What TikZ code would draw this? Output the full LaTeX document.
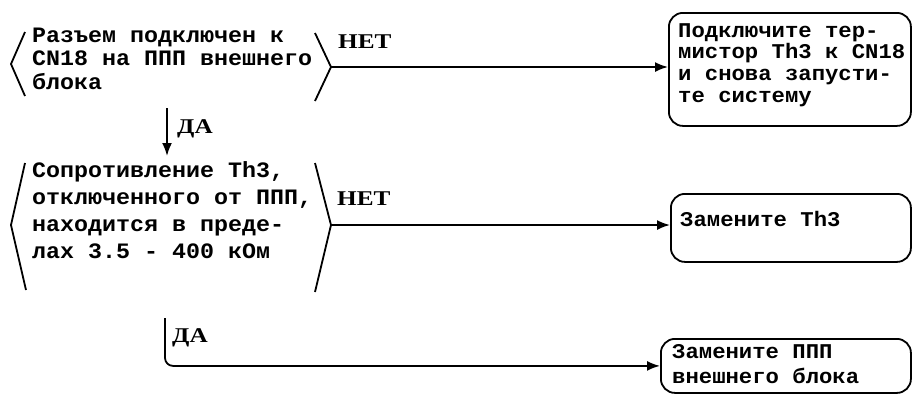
\documentclass[tikz,border=0pt]{standalone}
\usepackage{fontspec}
\usetikzlibrary{arrows.meta}
\newfontfamily\bodyfont[FakeStretch=1.06]{Liberation Mono Bold}
\newfontfamily\lblfont[FakeStretch=1.2]{Liberation Serif Bold}
\tikzset{
  ln/.style={line width=1.8pt, line join=round},
  arr/.style={ln, -{Latex[length=13pt,width=10pt]}},
  rbox/.style={ln, draw, rounded corners=14pt, anchor=north west, inner sep=0pt},
  txt/.style={anchor=base west, inner sep=0pt},
  lbl/.style={anchor=base west, inner sep=0pt, font=\lblfont\fontsize{21}{21}\selectfont},
}
\begin{document}
\begin{tikzpicture}[x=1pt,y=-1pt]
\useasboundingbox (0,0) rectangle (912,394);

% decision 1
\draw[ln] (25,32) -- (11,64) -- (25,96);
\draw[ln] (315,33) -- (331,67) -- (315,101);
\coordinate (a1) at (331,67);
\node[txt] (d1) at (32,42) {\bodyfont\fontsize{22}{23.5}\selectfont
  \begin{tabular}[t]{@{}l@{}}Разъем подключен к\\CN18 на ППП внешнего\\блока\end{tabular}};
\node[lbl] (n1) at (338,48) {НЕТ};

% result 1
\node[rbox, minimum width=242pt, minimum height=113pt] (r1) at (668,12) {};
\node[txt] (t1) at (678,37) {\bodyfont\fontsize{21}{21.7}\selectfont
  \begin{tabular}[t]{@{}l@{}}Подключите тер-\\мистор Th3 к CN18\\и снова запусти-\\те систему\end{tabular}};
\draw[arr] (a1) -- (a1 -| r1.west);

% yes 1
\coordinate (y1s) at (167,108);
\coordinate (y1e) at (167,156);
\draw[arr] (y1s) -- (y1e);
\node[lbl] (da1) at (177,133) {ДА};

% decision 2
\draw[ln] (25,163) -- (11,225) -- (26,290);
\draw[ln] (315,163) -- (331,225) -- (315,292);
\coordinate (a2) at (331,225);
\node[txt] (d2) at (32,177) {\bodyfont\fontsize{22}{27}\selectfont
  \begin{tabular}[t]{@{}l@{}}Сопротивление Th3,\\отключенного от ППП,\\находится в преде-\\лах 3.5 - 400 кОм\end{tabular}};
\node[lbl] (n2) at (337,205) {НЕТ};

% result 2
\node[rbox, minimum width=240pt, minimum height=68pt] (r2) at (670,193) {};
\node[txt] (t2) at (680,226) {\bodyfont\fontsize{21}{21.7}\selectfont Замените Th3};
\draw[arr] (a2) -- (a2 -| r2.west);

% yes 2
\coordinate (y2s) at (165,318);
\node[lbl] (da2) at (172,342) {ДА};

% result 3
\node[rbox, minimum width=250pt, minimum height=54pt] (r3) at (660,338) {};
\node[txt] (t3) at (672,358) {\bodyfont\fontsize{21}{25}\selectfont
  \begin{tabular}[t]{@{}l@{}}Замените ППП\\внешнего блока\end{tabular}};
\draw[arr, rounded corners=8pt] (y2s) |- (r3.west);
\end{tikzpicture}
\end{document}
